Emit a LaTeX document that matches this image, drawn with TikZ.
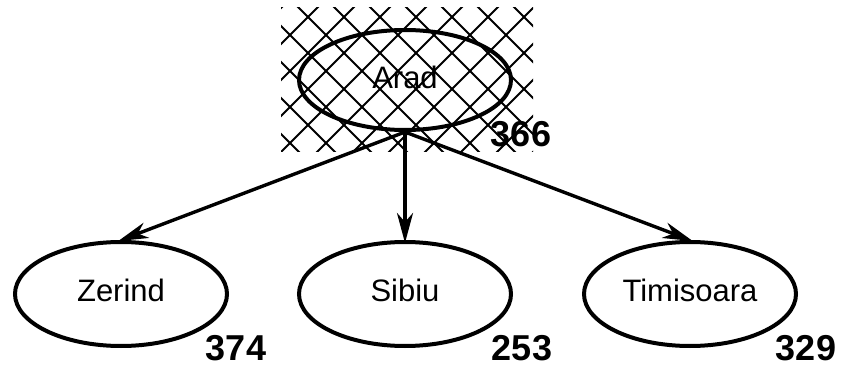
\documentclass[tikz,border=0pt]{standalone}
\usepackage{fontspec}
\setmainfont{Liberation Sans}
\usetikzlibrary{shapes.geometric,arrows.meta}
\tikzset{
  city/.style={ellipse, draw, line width=4pt, inner sep=0pt, minimum width=212pt, minimum height=104pt},
  lbl/.style={inner sep=0pt, font=\fontsize{31}{36}\selectfont},
  cost/.style={inner sep=0pt, font=\fontsize{36}{42}\selectfont\bfseries},
  hatchline/.style={line width=2pt},
  edge/.style={line width=3.4pt, -{Stealth[length=30pt, width=16pt, inset=9pt]}, shorten >=-3pt}
}
\begin{document}
\begin{tikzpicture}[x=1pt, y=-1pt]
\useasboundingbox (0,0) rectangle (846,377);
% cross-hatched background behind Arad
\begin{scope}
  \clip (281,8) rectangle (533,152);
  \foreach \k in {0,...,11} {
    \pgfmathsetmacro\c{289+36*\k}
    \draw[hatchline] ({\c+100},-100) -- ({\c-300},300);
  }
  \foreach \k in {0,...,12} {
    \pgfmathsetmacro\c{111+36*\k}
    \draw[hatchline] ({\c-100},-100) -- ({\c+300},300);
  }
\end{scope}
% nodes
\node[city, minimum height=100pt] (arad) at (405,80) {};
\node[city] (zerind) at (121,294) {};
\node[city] (sibiu) at (405,294) {};
\node[city] (timisoara) at (690,294) {};
% labels
\node[lbl] (aradT) at ([yshift=2.5pt]arad.center) {Arad};
\node[lbl] (zerindT) at ([yshift=4pt]zerind.center) {Zerind};
\node[lbl] (sibiuT) at ([yshift=4pt]sibiu.center) {Sibiu};
\node[lbl] (timisoaraT) at ([yshift=3.5pt]timisoara.center) {Timisoara};
% costs
\node[cost] (aradC) at ([xshift=116pt, yshift=-54pt]arad.center) {366};
\node[cost] (zerindC) at ([xshift=115pt, yshift=-54pt]zerind.center) {374};
\node[cost] (sibiuC) at ([xshift=117pt, yshift=-54pt]sibiu.center) {253};
\node[cost] (timisoaraC) at ([xshift=116pt, yshift=-54pt]timisoara.center) {329};
% edges
\draw[edge] (arad.south) -- (zerind.north);
\draw[edge] (arad.south) -- (sibiu.north);
\draw[edge] (arad.south) -- (timisoara.north);
\end{tikzpicture}
\end{document}
